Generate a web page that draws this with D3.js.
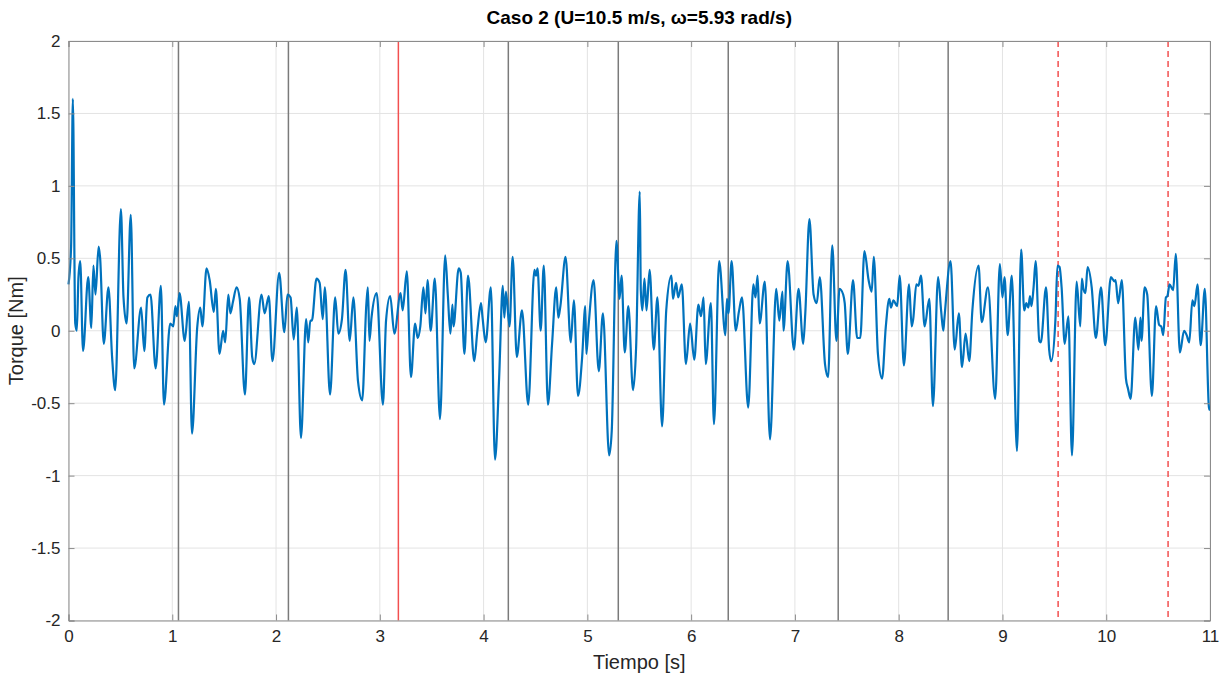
<!DOCTYPE html>
<html><head><meta charset="utf-8">
<script src="https://cdn.jsdelivr.net/npm/d3@7"></script>
<style>body{margin:0;background:#fff;} text{font-family:"Liberation Sans",Arial,sans-serif;}</style>
</head><body>
<svg id="c" width="1225" height="679"></svg>
<script>
const titleText = "Caso 2 (U=10.5 m/s, ω=5.93 rad/s)";
const xLabel = "Tiempo [s]";
const yLabel = "Torque [Nm]";
const xTicks = [0,1,2,3,4,5,6,7,8,9,10,11];
const yTicks = [-2,-1.5,-1,-0.5,0,0.5,1,1.5,2];
const greyLines = [1.0596,2.1192,4.2384,5.298,6.3576,7.4172,8.4768];
const redSolidLines = [3.1788];
const redDashedLines = [9.5364,10.596];
const time = [0,0.025,0.042,0.065,0.08,0.096,0.113,0.14,0.19,0.22,0.24,0.26,0.29,0.305,0.34,0.385,0.42,0.45,0.505,0.53,0.56,0.6,0.633,0.7,0.73,0.76,0.79,0.84,0.89,0.92,
0.98,1.01,1.03,1.045,1.07,1.12,1.16,1.19,1.24,1.27,1.29,1.33,1.36,1.4,1.42,1.455,1.49,1.51,1.54,1.56,1.585,1.62,1.65,1.7,1.74,1.77,1.79,1.86,1.89,1.93,1.965,
2.03,2.08,2.11,2.14,2.17,2.2,2.24,2.29,2.31,2.33,2.345,2.39,2.42,2.45,2.47,2.52,2.57,2.6,2.635,2.67,2.71,2.745,2.79,2.83,2.87,2.885,2.9,2.92,2.97,
3.03,3.06,3.1,3.14,3.2,3.22,3.26,3.3,3.34,3.365,3.39,3.42,3.44,3.46,3.49,3.53,3.58,3.63,3.655,3.68,3.7,3.71,3.76,3.78,3.815,3.85,3.91,3.94,3.975,3.99,4.02,
4.07,4.11,4.15,4.185,4.2,4.215,4.25,4.28,4.32,4.37,4.43,4.49,4.505,4.52,4.55,4.58,4.62,4.66,4.7,4.72,4.74,4.79,4.84,4.87,4.91,4.95,4.98,4.99,5.01,
5.06,5.11,5.15,5.21,5.235,5.28,5.31,5.33,5.36,5.395,5.44,5.47,5.505,5.515,5.53,5.55,5.57,5.6,5.64,5.675,5.72,5.76,5.81,5.825,5.855,5.875,5.91,5.95,5.99,6.03,
6.07,6.095,6.12,6.14,6.19,6.22,6.27,6.33,6.345,6.36,6.39,6.43,6.46,6.49,6.55,6.6,6.62,6.64,6.66,6.71,6.76,6.82,6.85,6.88,6.89,6.93,6.99,7.035,7.08,7.1,
7.14,7.18,7.21,7.24,7.29,7.32,7.36,7.4,7.43,7.465,7.48,7.51,7.56,7.6,7.63,7.67,7.71,7.74,7.76,7.8,7.84,7.875,7.91,7.925,7.95,7.985,8.01,8.05,
8.1,8.125,8.14,8.17,8.19,8.215,8.25,8.295,8.33,8.38,8.41,8.43,8.44,8.5,8.54,8.58,8.61,8.645,8.68,8.71,8.77,8.8,8.86,8.93,8.975,9.0,9.02,9.05,
9.09,9.14,9.18,9.21,9.23,9.25,9.265,9.28,9.3,9.32,9.355,9.37,9.42,9.45,9.47,9.51,9.53,9.55,9.57,9.6,9.635,9.67,9.715,9.75,9.765,9.78,9.8,9.82,9.86,9.9,9.95,9.99,10.045,
10.08,10.09,10.115,10.15,10.19,10.21,10.235,10.28,10.31,10.33,10.34,10.37,10.395,10.44,10.48,10.51,10.53,10.55,10.575,10.59,10.61,10.645,10.67,10.71,10.75,10.775,10.8,10.83,10.85,10.88,10.91,10.95,10.99,11];
const torque = [0.32,0.58,1.6,0.05,0,0.37,0.48,-0.14,0.37,0.02,0.45,0.25,0.58,0.5,-0.09,0.3,-0.18,-0.41,0.84,0.23,0.05,0.8,-0.26,0.16,-0.14,0.23,0.25,-0.26,0.31,-0.51,
0.05,0.03,0.17,0.1,0.26,-0.07,0.2,-0.71,0.02,0.16,0.03,0.43,0.35,0.13,0.29,-0.16,0,-0.08,0.25,0.12,0.2,0.3,0.22,-0.44,0.23,-0.18,-0.23,0.25,0.12,0.24,-0.21,
0.4,-0.01,0.25,0.23,-0.06,0.16,-0.74,0.08,-0.08,0.07,0.07,0.36,0.33,0.08,0.3,-0.44,0.23,-0.02,0.08,0.42,-0.07,0.23,-0.35,-0.48,0.18,0.3,-0.07,0.09,0.26,
-0.51,0.07,0.24,-0.02,0.26,0.14,0.41,-0.32,0.05,-0.05,0.03,0.3,0.12,0.35,0,0.36,-0.61,0.52,0.25,-0.02,0.18,0.03,0.43,0.4,-0.16,0.38,-0.21,0,0.19,0.09,-0.08,
0.3,-0.89,-0.32,0.31,0.09,0.27,0.03,0.51,-0.18,0.14,-0.51,0.42,0.38,0.43,0,0.45,-0.51,-0.09,0.3,0.09,0.17,0.51,-0.08,0.21,-0.45,-0.18,0.17,-0.16,0.02,
0.35,-0.28,0.12,-0.86,-0.69,0.62,0.22,0.38,-0.15,0.17,-0.41,-0.11,0.96,0.28,0.14,0.36,0.14,0.42,-0.13,0.23,-0.66,0.14,0.38,0.22,0.33,0.23,0.32,-0.23,0.05,-0.2,
0.18,0.1,0.23,-0.23,0.19,-0.645,0.48,-0.03,0.22,0.12,0.48,0,0.13,0.23,-0.53,0.32,0.23,0.38,0.05,0.34,-0.75,0.29,0.07,0.27,0,0.48,-0.13,0.29,-0.09,0.12,
0.77,0.25,0.19,0.37,-0.23,-0.32,0.59,-0.07,0.29,0.25,0.19,-0.16,0.35,-0.05,-0.05,0.55,0.35,0.27,0.51,-0.16,-0.33,0.02,0.22,0.16,0.21,0.17,0.38,-0.24,
0.32,0.03,0.08,0.32,0.31,0.38,0.03,0.22,-0.52,0.37,0.13,0,0.08,0.48,-0.13,0.12,-0.25,-0.02,-0.21,0.14,0.45,0.06,0.3,-0.47,0.46,0.23,0.37,-0.03,
0.38,-0.83,0.56,0.14,0.19,0.16,0.24,0.17,0.3,0.48,-0.07,-0.08,0.3,-0.13,-0.21,0.07,0.45,0.44,0.3,-0.09,0.1,-0.86,0.34,0.03,0.36,0.29,0.26,0.44,0.3,-0.05,0.3,-0.1,0.37,
0.34,0.35,0.19,0.35,-0.33,-0.4,-0.47,0.09,-0.13,0.09,-0.07,0.3,0.25,-0.45,0.17,0.04,0.03,-0.03,0.23,0.24,0.32,0.28,0.53,-0.15,0,-0.03,-0.08,0.21,0.17,0.32,-0.1,0.29,-0.53,-0.55];

const svg = d3.select("#c");
const L = 68.5, R = 1210, T = 41, B = 620.5;
const x = d3.scaleLinear().domain([0,11]).range([L,R]);
const y = d3.scaleLinear().domain([-2,2]).range([B,T]);

const g = svg.append("g");
// grid
g.selectAll(".gx").data(xTicks).join("line").attr("x1",d=>x(d)).attr("x2",d=>x(d)).attr("y1",T).attr("y2",B).attr("stroke","#e3e3e3").attr("stroke-width",1);
g.selectAll(".gy").data(yTicks).join("line").attr("y1",d=>y(d)).attr("y2",d=>y(d)).attr("x1",L).attr("x2",R).attr("stroke","#e3e3e3").attr("stroke-width",1);

// vertical period lines
g.selectAll(".vg").data(greyLines).join("line").attr("x1",d=>x(d)).attr("x2",d=>x(d)).attr("y1",T).attr("y2",B).attr("stroke","#7a7a7a").attr("stroke-width",1.5);
g.selectAll(".vr").data(redSolidLines).join("line").attr("x1",d=>x(d)).attr("x2",d=>x(d)).attr("y1",T).attr("y2",B).attr("stroke","#f25050").attr("stroke-width",1.5);
g.selectAll(".vd").data(redDashedLines).join("line").attr("x1",d=>x(d)).attr("x2",d=>x(d)).attr("y1",T).attr("y2",B).attr("stroke","#f25050").attr("stroke-width",1.5).attr("stroke-dasharray","6,4");

// series
const pts = time.map((t,i)=>[t,torque[i]]);
g.append("path").datum(pts).attr("fill","none").attr("stroke","#0072BD").attr("stroke-width",2.2).attr("stroke-linejoin","round")
 .attr("d", d3.line().x(d=>x(d[0])).y(d=>y(d[1])).curve(d3.curveMonotoneX));

// axes box
const axCol = "#262626";
const ax = d3.axisBottom(x).tickValues(xTicks).tickFormat(d3.format("")).tickSize(-6).tickPadding(9);
const gxA = svg.append("g").attr("transform",`translate(0,${B})`).call(ax);
const ay = d3.axisLeft(y).tickValues(yTicks).tickFormat(d=>d).tickSize(-6).tickPadding(8);
const gyA = svg.append("g").attr("transform",`translate(${L},0)`).call(ay);
const axT = d3.axisTop(x).tickValues(xTicks).tickFormat("").tickSize(-6);
const gtA = svg.append("g").attr("transform",`translate(0,${T})`).call(axT);
const ayR = d3.axisRight(y).tickValues(yTicks).tickFormat("").tickSize(-6);
const grA = svg.append("g").attr("transform",`translate(${R},0)`).call(ayR);
[gxA,gyA,gtA,grA].forEach(a=>{
  a.select(".domain").attr("stroke","#8c8c8c").attr("stroke-width",1);
  a.selectAll(".tick line").attr("stroke","#8c8c8c");
  a.selectAll(".tick text").attr("fill",axCol).style("font-size","17px").style("font-family","'Liberation Sans',Arial,sans-serif");
});

svg.append("text").attr("x",(L+R)/2).attr("y",24).attr("text-anchor","middle").attr("fill","#000").style("font-size","19px").style("font-weight","bold").text(titleText);
svg.append("text").attr("x",(L+R)/2).attr("y",669).attr("text-anchor","middle").attr("fill",axCol).style("font-size","20px").text(xLabel);
svg.append("text").attr("transform",`translate(23,${(T+B)/2}) rotate(-90)`).attr("text-anchor","middle").attr("fill",axCol).style("font-size","20px").text(yLabel);
</script>
</body></html>
